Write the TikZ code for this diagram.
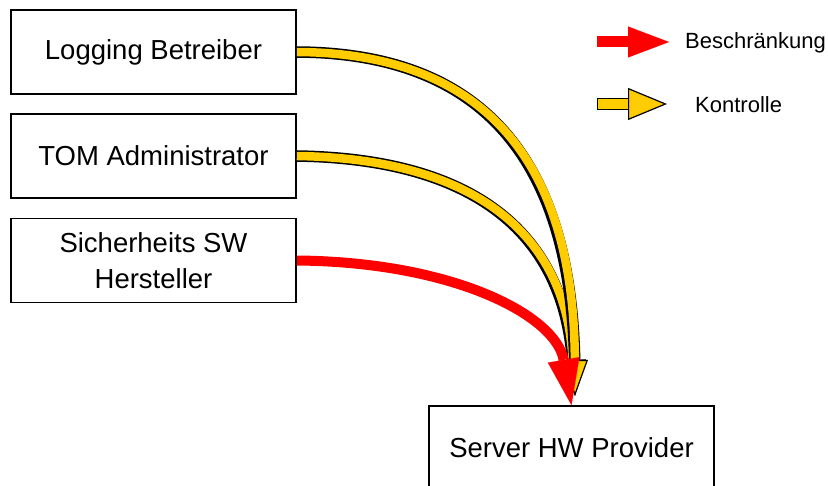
\documentclass[tikz,border=0pt]{standalone}
\usepackage{fontspec}
\setmainfont{Liberation Sans}
\usetikzlibrary{arrows.meta}
\definecolor{kyellow}{RGB}{255,204,0}
\definecolor{kred}{RGB}{255,0,0}
\begin{document}
\begin{tikzpicture}[x=1pt,y=-1pt,
  box/.style={draw=black, line width=1.6pt, minimum width=285pt, minimum height=84pt,
    inner sep=0pt, align=center, font=\fontsize{27.5}{36}\selectfont},
  legtext/.style={anchor=west, inner sep=0pt, font=\fontsize{22}{26}\selectfont},
  youter/.style={draw=black, line width=11.5pt, shorten >=22pt},
  yinner/.style={draw=kyellow, line width=8.5pt,
    -{Triangle[length=36pt,width=26pt,line width=1.2pt,fill=kyellow,color=black]}},
  rarrow/.style={draw=kred, line width=10pt,
    -{Triangle[length=46pt,width=32pt,line width=0.1pt]}}]
\useasboundingbox (0,0) rectangle (828,486);
% boxes
\node[box] (log)  at (153.5,52)    {Logging Betreiber};
\node[box] (tom)  at (153.5,156)   {TOM Administrator};
\node[box] (sich) at (153.5,260.5) {Sicherheits SW\\Hersteller};
\node[box] (srv)  at (571.5,448)   {Server HW Provider};
\coordinate (ytip) at (575,396);
% yellow control arrows
\draw[youter] (tom.east) .. controls (560,160) and (570,320) .. (ytip);
\draw[yinner] (tom.east) .. controls (560,160) and (570,320) .. (ytip);
\draw[youter] (log.east) .. controls (500,53) and (574,180) .. (ytip);
\draw[yinner] (log.east) .. controls (500,53) and (574,180) .. (ytip);
% red restriction arrow
\draw[rarrow] (sich.east) .. controls (455,262) and (556,316) .. (srv.north);
% legend
\coordinate (l1a) at (597,42);
\coordinate (l1b) at (669,42);
\draw[draw=kred, line width=11pt, -{Triangle[length=41pt,width=31pt,line width=0.1pt]}] (l1a) -- (l1b);
\node[legtext] (l1t) at (685,43) {Beschränkung};
\coordinate (l2a) at (597,104);
\coordinate (l2b) at (667,104);
\draw[draw=black, line width=12pt, shorten >=25pt] (l2a) -- (l2b);
\draw[draw=kyellow, line width=9.5pt, shorten <=1.2pt,
  -{Triangle[length=39pt,width=32pt,line width=1.2pt,fill=kyellow,color=black]}] (l2a) -- (l2b);
\node[legtext] (l2t) at (695,105) {Kontrolle};
\end{tikzpicture}
\end{document}
